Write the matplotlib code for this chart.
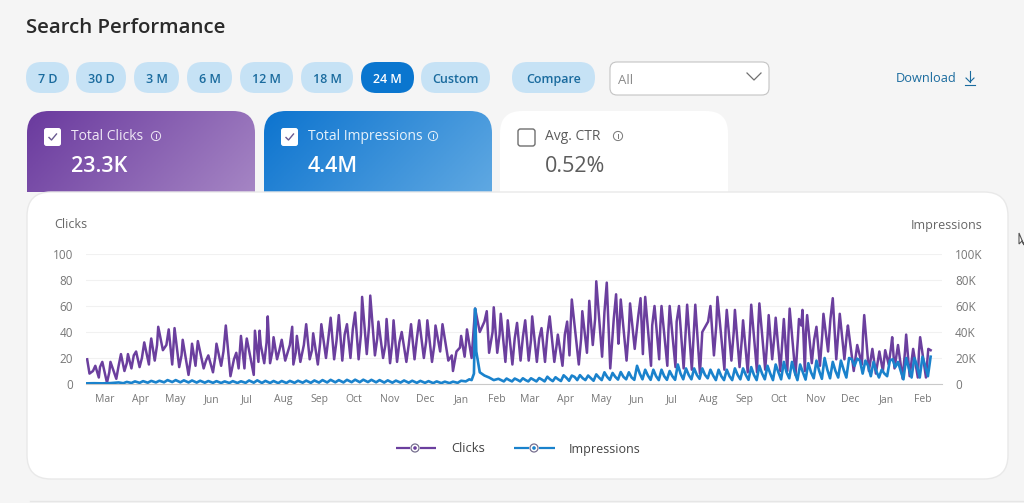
import matplotlib
matplotlib.use("Agg")
import matplotlib.pyplot as plt
import matplotlib.dates as mdates
import numpy as np
import pandas as pd
from matplotlib.patches import FancyBboxPatch, Circle, Polygon
from matplotlib.ticker import FixedLocator, FixedFormatter

W, H = 1024, 503
plt.rcParams['font.family'] = ['Open Sans', 'DejaVu Sans']

start_date = "2022-02-13"

# daily turning points of each series: days since start_date, then the value that day
click_days = [
    1, 3, 8, 11, 14, 18, 21, 26, 30, 33, 36, 39, 43, 46, 50, 54, 56, 59, 62, 66, 71, 74, 76, 80,
    83, 88, 91, 94, 96, 101, 105, 109, 112, 116, 120, 124, 129, 131, 133, 136, 138, 144, 145, 148,
    149, 153, 156, 158, 161, 164, 168, 171, 177, 178, 181, 184, 189, 192, 195, 199, 202, 206, 210,
    213, 217, 220, 224, 227, 231, 234, 237, 241, 244, 248, 251, 255, 258, 261, 264, 267, 271, 275,
    279, 282, 286, 290, 293, 297, 300, 304, 306, 311, 314, 315, 318, 322, 325, 327, 331, 334, 338,
    344, 346, 350, 353, 356, 360, 362, 366, 370, 373, 377, 380, 383, 387, 391, 394, 398, 402, 405,
    409, 413, 415, 417, 423, 426, 430, 432, 435, 438, 443, 447, 450, 455, 457, 459, 464, 467, 471,
    476, 478, 480, 485, 488, 492, 494, 499, 501, 506, 509, 513, 516, 520, 523, 527, 529, 536, 539,
    542, 548, 550, 554, 557, 561, 564, 568, 571, 576, 578, 583, 586, 589, 592, 596, 599, 602, 604,
    609, 612, 614, 615, 617, 619, 623, 627, 630, 633, 637, 641, 644, 647, 651, 654, 659, 662, 666,
    668, 672, 675, 678, 681, 684, 686, 689, 692, 694, 697, 701, 704, 707, 710, 714, 716, 721, 723,
    725,
]
clicks = [
    19, 8, 14, 5, 17, 1, 17, 4, 23, 10, 23, 12, 25, 13, 32, 15, 35, 18, 44, 26, 42, 15, 43, 13,
    34, 7, 31, 14, 33, 12, 22, 9, 31, 14, 45, 6, 24, 12, 37, 12, 35, 7, 41, 17,
    41, 16, 52, 16, 36, 19, 34, 18, 44, 15, 37, 17, 46, 19, 39, 15, 46, 20, 51,
    19, 53, 18, 46, 20, 55, 19, 67, 23, 68, 22, 48, 20, 50, 16, 49, 17, 40, 17,
    46, 19, 49, 20, 49, 17, 45, 25, 46, 18, 22, 10, 25, 37, 21, 42, 20, 58, 40,
    56, 24, 59, 24, 54, 17, 49, 15, 47, 18, 49, 18, 52, 17, 43, 17, 52, 17, 38,
    14, 48, 22, 65, 15, 56, 24, 64, 30, 79, 21, 78, 12, 69, 31, 65, 18, 62, 27,
    66, 23, 67, 14, 60, 19, 60, 14, 60, 13, 60, 12, 61, 11, 61, 8, 40, 60, 22,
    67, 11, 57, 18, 57, 13, 49, 9, 61, 9, 62, 11, 53, 19, 51, 10, 50, 10, 58,
    7, 50, 45, 57, 10, 53, 16, 44, 14, 54, 25, 66, 19, 54, 19, 45, 10, 30, 15,
    53, 10, 27, 8, 25, 10, 26, 15, 36, 12, 30, 4, 38, 6, 27, 5, 36, 5, 27,
    26,
]

# weekday shoulders on the way up to each weekly high
shoulder_days = [
    6, 12, 20, 28, 35, 41, 48, 55, 61, 69, 75, 82, 90, 95, 103, 111, 118, 127, 132, 137, 150, 155,
    160, 166, 175, 180, 187, 194, 201, 208, 215, 222, 229, 236, 243, 250, 257, 263, 269, 277, 284,
    292, 299, 305, 321, 326, 342, 349, 355, 361, 368, 375, 382, 389, 396, 404, 411, 416, 425, 431,
    437, 445, 453, 458, 466, 474, 479, 486, 493, 500, 507, 515, 522, 534, 541, 549, 556, 563, 570,
    577, 585, 591, 598, 603, 611, 618, 625, 632, 639, 646, 653, 667, 691, 703, 715,
]
shoulders = [
    10, 13, 9, 14, 16, 22, 20, 28, 30, 30, 28, 22, 20, 24, 18, 21, 25, 19, 25, 27, 30, 32,
    25, 26, 30, 24, 30, 26, 32, 35, 33, 38, 42, 38, 45, 35, 30, 32, 32, 30, 35,
    33, 30, 35, 28, 30, 48, 40, 38, 30, 35, 36, 34, 35, 38, 30, 38, 45, 35, 42,
    50, 55, 50, 45, 42, 52, 48, 45, 45, 42, 48, 45, 44, 48, 45, 42, 40, 35, 42,
    44, 36, 38, 36, 38, 34, 40, 34, 38, 50, 42, 38, 38, 28, 25, 25,
]

impression_days = [
    0, 7, 14, 21, 28, 32, 35, 39, 42, 46, 49, 53, 56, 60, 63, 67, 70, 74, 77, 81, 84, 88, 91, 95,
    98, 102, 105, 109, 112, 116, 119, 123, 126, 130, 133, 137, 140, 144, 147, 151, 154, 158, 161,
    165, 168, 172, 175, 179, 182, 186, 189, 193, 196, 200, 203, 207, 210, 214, 217, 221, 224, 228,
    231, 235, 238, 242, 245, 249, 252, 256, 259, 263, 266, 270, 273, 277, 280, 284, 287, 291, 294,
    298, 301, 305, 308, 312, 315, 319, 322, 326, 329, 331, 333, 334, 335, 338, 342, 346, 350,
]
impressions = [
    0.5, 0.6, 0.5, 0.7, 1.2, 0.6, 1.6, 0.8, 2.0, 0.9, 2.2, 1.0, 2.4, 1.2, 2.5, 1.3, 3.0, 1.5, 3.0, 1.3, 2.8, 1.2, 2.7, 1.1,
    2.5, 1.0, 2.3, 0.9, 2.2, 0.8, 2.0, 0.8, 2.2, 0.8, 2.1, 0.9, 2.7, 1.0, 2.8, 0.8, 2.4, 0.8, 2.3,
    0.7, 2.3, 0.8, 2.4, 0.9, 2.5, 1.0, 2.6, 0.9, 2.7, 1.1, 3.0, 1.2, 3.2, 1.3, 3.0, 1.2, 3.2, 1.4,
    3.3, 1.4, 3.3, 1.5, 3.2, 1.3, 3.0, 1.1, 2.8, 1.0, 2.6, 1.1, 2.7, 1.0, 2.5, 0.9, 2.4, 0.9, 2.2,
    0.7, 2.0, 0.7, 1.8, 0.7, 1.8, 0.9, 2.5, 2.0, 3.6, 3.0, 8.0, 58.0, 25.0, 9.0, 6.5, 5.0, 3.0,
]
# after the jump: high, middle and low of each week, one row per stretch of weeks
impression_first_week = 354
impressions_weekly = [
    4.0, 3.0, 2.0, 4.2, 3.0, 2.0, 4.2, 3.2, 2.0, 4.4, 3.0, 2.0,
    4.4, 3.2, 2.0, 4.6, 3.4, 2.0, 5.6, 3.6, 2.2, 5.2, 3.6, 2.3,
    6.7, 4.8, 2.5, 6.5, 5.5, 3.0, 6.8, 4.5, 3.0, 6.5, 4.5, 2.5, 7.4, 5.0, 3.0,
    9.0, 5.5, 3.2, 8.5, 5.5, 3.4, 9.2, 5.5, 3.6, 9.0, 5.0, 3.2,
    14.0, 8.0, 3.6, 11.0, 6.5, 3.2, 11.0, 6.0, 3.0, 11.0, 6.0, 3.2, 10.0, 6.0, 3.2,
    15.0, 8.0, 3.6, 12.0, 7.0, 3.6, 12.0, 7.0, 4.0, 12.0, 7.0, 4.4,
    11.0, 6.5, 3.0, 11.0, 6.0, 3.0, 11.0, 6.0, 3.0, 12.0, 7.0, 3.6, 12.0, 7.0, 3.2,
    13.0, 7.0, 3.0, 14.0, 8.0, 3.6, 14.0, 8.0, 3.0, 15.0, 9.0, 3.6,
    17.0, 9.0, 4.4, 17.0, 9.0, 3.0, 15.0, 9.0, 3.4, 16.0, 9.0, 4.4,
    18.0, 10.0, 4.0, 20.0, 11.0, 4.4, 17.0, 10.0, 5.0, 18.0, 11.0, 5.0,
    20.0, 19.0, 14.0, 19.5, 18.0, 8.0, 18.0, 14.0, 6.0, 17.0, 10.0, 5.0, 11.0, 8.0, 6.0,
    18.0, 19.0, 13.0, 17.0, 10.0, 3.6, 20.0, 12.0, 5.0, 20.0, 14.0, 5.0, 21.0, 14.0, 6.0,
    21.0,
]

y_ticks = [0, 20, 40, 60, 80, 100]
y_labels = ["0", "20", "40", "60", "80", "100"]
right_ticks = [0, 20000, 40000, 60000, 80000, 100000]
right_labels = ["0", "20K", "40K", "60K", "80K", "100K"]
ranges = ["7 D", "30 D", "3 M", "6 M", "12 M", "18 M", "24 M", "Custom"]
range_edges = [(26, 69), (76, 126), (134, 179), (187, 232), (240, 293), (301, 353), (361, 414), (421, 490)]

PURPLE = "#6b3f9e"
BLUE = "#1a82cc"
PILL = "#c6e2f5"
PILL_TEXT = "#1a6b9e"

fig = plt.figure(figsize=(W / 100, H / 100), dpi=100, facecolor="#f5f5f5")

# page furniture is laid out in pixel coordinates
ui = fig.add_axes([0, 0, 1, 1])
ui.set_axis_off()


def rounded(x0, y0, x1, y1, r, **kw):
    box = FancyBboxPatch((x0 + r, y0 + r), x1 - x0 - 2 * r, y1 - y0 - 2 * r,
                         boxstyle=f"round,pad={r},rounding_size={r}", **kw)
    ui.add_patch(box)
    return box


def gradient_tab(x0, x1, c0, c1):
    tab = rounded(x0, 111, x1, 215, 22, fc="none", ec="none", zorder=1)
    c0 = np.array(matplotlib.colors.to_rgb(c0))
    c1 = np.array(matplotlib.colors.to_rgb(c1))
    xx, yy = np.meshgrid(np.linspace(0, 1, 80), np.linspace(0, 1, 40))
    t = (xx * 0.75 + yy * 0.25)[..., None]
    im = ui.imshow(c0 + (c1 - c0) * t, extent=(x0, x1, 192, 111), aspect="auto", zorder=1)
    im.set_clip_path(tab)


def info_icon(x, y, color):
    ui.add_patch(Circle((x, y), 4.6, fc="none", ec=color, lw=0.7, zorder=5))
    ui.plot([x, x], [y - 1.6, y + 2], color=color, lw=0.7, zorder=5)


def check_box(x0, x1, y0, y1):
    rounded(x0, y0, x1, y1, 2.5, fc="white", ec="none", zorder=4)
    ui.plot([x0 + 5, x0 + 7.5, x0 + 12.5], [y0 + 9.5, y0 + 12, y0 + 6], color="#6a5a90", lw=1.0, zorder=5)


for (x0, x1), label in zip(range_edges, ranges):
    active = label == "24 M"
    rounded(x0, 62, x1, 93, 15.5, fc="#0a76cf" if active else PILL, ec="none")
    ui.text((x0 + x1) / 2, 79, label, ha="center", va="center", fontsize=9, fontweight="semibold",
            color="white" if active else PILL_TEXT)

rounded(512, 62, 595, 93, 15.5, fc=PILL, ec="none")
ui.text(553.5, 79, "Compare", ha="center", va="center", fontsize=9, fontweight="semibold", color=PILL_TEXT)

rounded(610, 62, 769, 95, 7, fc="white", ec="#c4c4c4", lw=0.8)
ui.text(618, 80, "All", va="center", fontsize=9.5, color="#8a8a8a")
ui.plot([747, 754, 761], [73, 80, 73], color="#707070", lw=0.9)

ui.text(896, 78, "Download", va="center", fontsize=9.2, fontweight="medium", color=PILL_TEXT)
ui.plot([970, 970], [71, 82], color=PILL_TEXT, lw=0.8)
ui.plot([966, 970, 974], [78, 82, 78], color=PILL_TEXT, lw=0.8)
ui.plot([965, 975], [85, 85], color=PILL_TEXT, lw=0.8)

ui.text(26, 28, "Search Performance", va="center", fontsize=14.7, fontweight="semibold", color="#2a2a2a")

gradient_tab(27, 255, "#6a3a9e", "#a585c4")
gradient_tab(264, 492, "#0d74cf", "#5fa8e2")
rounded(500, 111, 728, 215, 22, fc="white", ec="none", zorder=1)

check_box(44, 61, 128, 146)
ui.text(71, 137, "Total Clicks", va="center", fontsize=10, color="#efe8f5", zorder=5)
info_icon(156, 136, "#efe8f5")
ui.text(71, 166, "23.3K", va="center", fontsize=15.5, fontweight="semibold", color="white", zorder=5)

check_box(281, 298, 128, 146)
ui.text(308, 137, "Total Impressions", va="center", fontsize=10, color="#e6f2fb", zorder=5)
info_icon(433, 136, "#e6f2fb")
ui.text(308, 166, "4.4M", va="center", fontsize=15.5, fontweight="semibold", color="white", zorder=5)

rounded(518, 129, 535, 146, 2.5, fc="white", ec="#6e6e6e", lw=1.0, zorder=4)
ui.text(545, 137, "Avg. CTR", va="center", fontsize=10, fontweight="medium", color="#5c5c5c", zorder=5)
info_icon(618, 136, "#777777")
ui.text(545, 166, "0.52%", va="center", fontsize=15.5, fontweight="medium", color="#5c5c5c", zorder=5)

rounded(27, 192, 1008, 479, 24, fc="white", ec="#e9e9e9", lw=1, zorder=6)

ui.text(54, 225, "Clicks", va="center", fontsize=9, color="#666666", zorder=7)
ui.text(982, 225, "Impressions", ha="right", va="center", fontsize=9, color="#666666", zorder=7)

# legend
for x0, x1, xc, tx, color, name, size in [(396, 436, 415, 451, PURPLE, "Clicks", 9.3),
                                          (514, 555, 534, 569, BLUE, "Impressions", 9.0)]:
    ui.plot([x0, xc - 5], [448, 448], color=color, lw=1.6, zorder=7, solid_capstyle="butt")
    ui.plot([xc + 5, x1], [448, 448], color=color, lw=1.6, zorder=7, solid_capstyle="butt")
    ui.add_patch(Circle((xc, 448), 4, fc="white", ec="#77708f", lw=0.9, zorder=7))
    ui.add_patch(Circle((xc, 448), 1.8, fc=color, ec="none", zorder=8))
    ui.text(tx, 449, name, va="center", fontsize=size, color="#444444", zorder=7)

ui.plot([30, 1024], [501, 501], color="#e6e6e6", lw=1)

# mouse pointer at the right edge of the page
ui.add_patch(Polygon([(1019, 233), (1019, 244), (1022, 241), (1024, 245)], closed=True, fc="white", ec="#555555", lw=0.8))

ui.set_xlim(0, W)
ui.set_ylim(H, 0)

# chart: left axis for clicks, right axis for impressions, same date scale
days_per_px = 1 / 1.165
ax = fig.add_axes([86 / W, 1 - 384 / H, (942 - 86) / W, 130 / H], zorder=10)
ax.patch.set_alpha(0)
start = pd.Timestamp(start_date)

all_click_days = np.array(click_days + shoulder_days)
all_clicks = np.array(clicks + shoulders)
order = np.argsort(all_click_days, kind="stable")
click_dates = start + pd.to_timedelta(all_click_days[order], unit="D")

weekly_days = impression_first_week + np.arange(len(impressions_weekly)) * 7 / 3
all_impression_days = np.concatenate([impression_days, weekly_days])
all_impressions = np.array(impressions + impressions_weekly) * 1000
impression_dates = start + pd.to_timedelta(all_impression_days, unit="D")

ax.plot(click_dates, all_clicks[order], color=PURPLE, lw=1.8, solid_joinstyle="round", zorder=3)
ax.set_xlim(start, start + pd.Timedelta(days=856 * days_per_px))
ax.set_ylim(0, 100)
ax.yaxis.set_major_locator(FixedLocator(y_ticks))
ax.yaxis.set_major_formatter(FixedFormatter(y_labels))
ax.xaxis.set_major_locator(mdates.MonthLocator())
ax.xaxis.set_major_formatter(mdates.DateFormatter("%b"))
ax.grid(axis="y", color="#f1f1f1", lw=0.8)
ax.set_axisbelow(True)
for side in ["top", "left", "right"]:
    ax.spines[side].set_visible(False)
ax.spines["bottom"].set_color("#c9c9c9")
ax.tick_params(axis="x", length=0, pad=7, labelsize=7.5, labelcolor="#777777")
ax.tick_params(axis="y", length=0, pad=9.4, labelsize=8.5, labelcolor="#777777")

ax2 = ax.twinx()
ax2.patch.set_alpha(0)
ax2.plot(impression_dates, all_impressions, color=BLUE, lw=1.9, solid_joinstyle="round", zorder=4)
ax2.set_ylim(0, 100000)
ax2.yaxis.set_major_locator(FixedLocator(right_ticks))
ax2.yaxis.set_major_formatter(FixedFormatter(right_labels))
for side in ["top", "left", "right", "bottom"]:
    ax2.spines[side].set_visible(False)
ax2.tick_params(axis="y", length=0, pad=9.4, labelsize=8.5, labelcolor="#777777")

fig.savefig("out.png", dpi=100, facecolor=fig.get_facecolor())
